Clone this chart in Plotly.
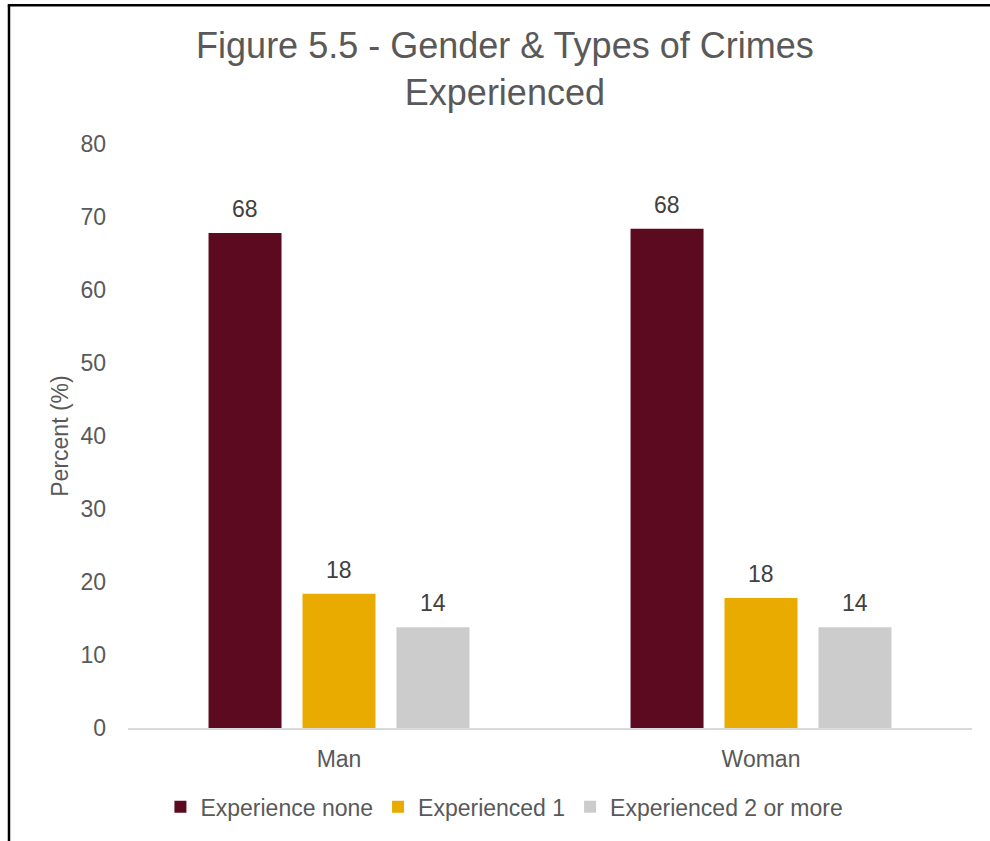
import plotly.graph_objects as go

# Survey results: share of respondents by number of crimes experienced
genders = ["Man", "Woman"]
series_names = ["Experience none", "Experienced 1", "Experienced 2 or more"]
experience_none = [67.8, 68.4]
experienced_1 = [18.4, 17.8]
experienced_2_plus = [13.8, 13.8]
y_ticks = [0, 10, 20, 30, 40, 50, 60, 70, 80]

colors = ["#5C0A20", "#EAAB00", "#CCCCCC"]
values = [experience_none, experienced_1, experienced_2_plus]

FONT = "Liberation Sans, Arial, sans-serif"
FS = 23
BARGAP = 0.332
GROUPGAP = 0.223

fig = go.Figure()
for name, vals, col in zip(series_names, values, colors):
    fig.add_trace(go.Bar(
        name=name,
        x=genders,
        y=vals,
        marker=dict(color=col, line=dict(width=0)),
        hovertemplate="%{x}: %{y:.1f}%<extra>" + name + "</extra>",
    ))

# value labels above each bar, positioned in axis units of the grouped layout
n_series = len(series_names)
slot = (1 - BARGAP) / n_series
annotations = []
for j, vals in enumerate(values):
    for i, v in enumerate(vals):
        annotations.append(dict(
            x=i + (j - (n_series - 1) / 2) * slot,
            y=v,
            xref="x", yref="y",
            text=f"{v:.0f}",
            showarrow=False,
            yanchor="bottom",
            yshift=9,
            font=dict(family=FONT, size=FS, color="#404040"),
        ))

fig.update_layout(
    width=990,
    height=841,
    barmode="group",
    bargap=BARGAP,
    bargroupgap=GROUPGAP,
    plot_bgcolor="white",
    paper_bgcolor="white",
    margin=dict(l=128, r=18, t=144, b=113),
    title=dict(
        text="Figure 5.5 - Gender & Types of Crimes<br>Experienced",
        font=dict(family=FONT, size=36, color="#595959"),
        x=0.51, xanchor="center",
        y=0.931, yanchor="middle",
        yref="container",
    ),
    font=dict(family=FONT, size=FS, color="#595959"),
    showlegend=True,
    legend=dict(
        orientation="h",
        x=0.446, xanchor="center",
        y=-0.135, yanchor="middle",
        font=dict(family=FONT, size=FS, color="#595959"),
        tracegroupgap=0,
    ),
    annotations=annotations,
    shapes=[
        # frame around the chart (left and top edges)
        dict(type="line", xref="paper", yref="paper",
             x0=-0.1410, x1=-0.1410, y0=-0.2, y1=1.2375,
             line=dict(color="black", width=2.5)),
        dict(type="line", xref="paper", yref="paper",
             x0=-0.1425, x1=1.1, y0=1.2375, y1=1.2375,
             line=dict(color="black", width=2.5)),
    ],
)

fig.update_xaxes(
    showgrid=False,
    showline=True,
    linecolor="#D9D9D9",
    linewidth=1.5,
    ticks="",
    tickfont=dict(family=FONT, size=FS, color="#595959"),
    ticklabelstandoff=10,
)
fig.update_yaxes(
    range=[0, 80],
    tickvals=y_ticks,
    showgrid=False,
    zeroline=False,
    showline=False,
    ticks="",
    tickfont=dict(family=FONT, size=FS, color="#595959"),
    ticklabelstandoff=21,
    title=dict(text="Percent (%)", font=dict(family=FONT, size=FS, color="#595959"), standoff=5),
)

fig.write_html("out.html")
